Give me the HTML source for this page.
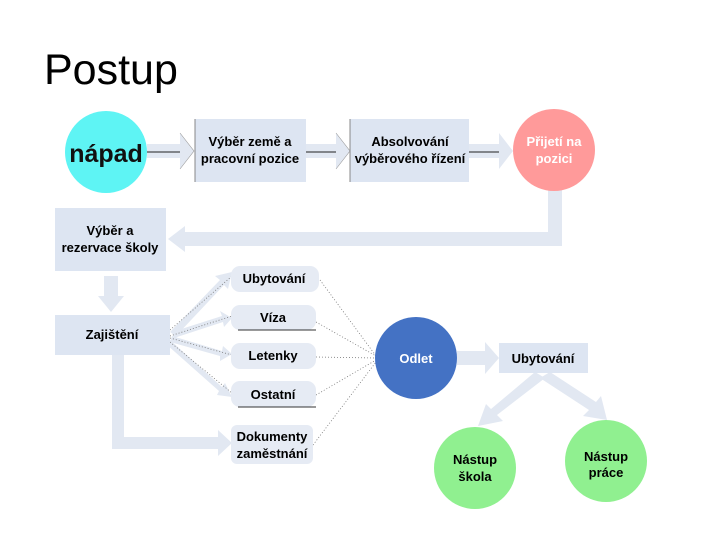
<!DOCTYPE html>
<html><head><meta charset="utf-8"><style>
html,body{margin:0;padding:0;background:#fff;}
svg{display:block;font-family:"Liberation Sans",Arial,sans-serif;}
</style></head><body>
<svg width="720" height="540" viewBox="0 0 720 540" xmlns="http://www.w3.org/2000/svg">
<rect width="720" height="540" fill="#fff"/>
<text x="44" y="84" font-size="43" fill="#000">Postup</text>

<g fill="#e2e8f2">
 <path d="M147,144 H180 V133 L194,151 L180,169 V158 H147 Z"/>
 <path d="M306,144 H336 V133 L350,151 L336,169 V158 H306 Z"/>
 <path d="M469,144 H499 V133 L513,151 L499,169 V158 H469 Z"/>
 <path d="M548,190 H562 V246 H185 V252 L168,239 L185,226 V232 H548 Z"/>
 <path d="M104,276 H118 V296 H124 L111,312 L98,296 H104 Z"/>
 <path d="M112,355 H124 V437 H218 V430 L232,443 L218,456 V449 H112 Z"/>
 <path d="M170,332 L220,280 L215,276 L232,272 L228,289 L224,285 L176,336 Z"/>
 <path d="M172,332 L222,316 L220,311 L232,318 L224,327 L223,322 L174,338 Z"/>
 <path d="M172,336 L222,351 L223,346 L232,354 L220,361 L220,356 L170,342 Z"/>
 <path d="M170,340 L222,387 L225,383 L232,397 L217,395 L219,391 L166,344 Z"/>
 <path d="M457,351 H485 V342 L499,358 L485,374 V365 H457 Z"/>
 <path d="M535,372 L545,378 L497,415 L503,421 L478,426 L486,404 L491,409 Z"/>
 <path d="M540,378 L550,372 L596,402 L601,396 L607,420 L583,416 L589,410 Z"/>
</g>
<g stroke="#222" stroke-width="1">
 <line x1="147" y1="152" x2="180" y2="152"/>
 <path d="M180,133 L194,151 L180,169" fill="none" stroke="#999" stroke-width="0.6"/>
 <line x1="306" y1="152" x2="336" y2="152"/>
 <path d="M336,133 L350,151 L336,169" fill="none" stroke="#999" stroke-width="0.6"/>
 <line x1="469" y1="152" x2="499" y2="152"/>
</g>

<g stroke="#777" stroke-width="0.8" stroke-dasharray="1,2" fill="none">
 <path d="M320,280 L376,356"/><path d="M316,322 L376,356"/><path d="M316,357 L376,358"/>
 <path d="M316,395 L376,360"/><path d="M313,445 L376,362"/>
 <path d="M170,330 L232,276"/><path d="M170,336 L232,316"/><path d="M170,338 L232,355"/><path d="M170,342 L232,393"/>
</g>

<circle cx="106" cy="152" r="41" fill="#5ef4f4"/>
<text x="106" y="162" font-size="25" font-weight="bold" text-anchor="middle" fill="#111">nápad</text>

<rect x="195" y="119" width="111" height="63" fill="#dde5f2"/>
<line x1="195" y1="119" x2="195" y2="182" stroke="#888"/>
<text x="250" y="146" font-size="13" font-weight="bold" text-anchor="middle">Výběr země a</text>
<text x="250" y="163" font-size="13" font-weight="bold" text-anchor="middle">pracovní pozice</text>

<rect x="350" y="119" width="119" height="63" fill="#dde5f2"/>
<line x1="350" y1="119" x2="350" y2="182" stroke="#888"/>
<text x="410" y="146" font-size="13" font-weight="bold" text-anchor="middle">Absolvování</text>
<text x="410" y="163" font-size="13" font-weight="bold" text-anchor="middle">výběrového řízení</text>

<circle cx="554" cy="150" r="41" fill="#ff9a9a"/>
<text x="554" y="146" font-size="13" font-weight="bold" text-anchor="middle" fill="#fff">Přijetí na</text>
<text x="554" y="163" font-size="13" font-weight="bold" text-anchor="middle" fill="#fff">pozici</text>

<rect x="55" y="208" width="111" height="63" fill="#dde5f2"/>
<text x="110" y="235" font-size="13" font-weight="bold" text-anchor="middle">Výběr a</text>
<text x="110" y="252" font-size="13" font-weight="bold" text-anchor="middle">rezervace školy</text>

<rect x="55" y="315" width="115" height="40" fill="#dde5f2"/>
<text x="112" y="339" font-size="13" font-weight="bold" text-anchor="middle">Zajištění</text>

<g fill="#e6ebf4">
 <rect x="231" y="266" width="88" height="26" rx="9"/>
 <rect x="231" y="305" width="85" height="25" rx="9"/>
 <rect x="231" y="343" width="85" height="26" rx="9"/>
 <rect x="231" y="381" width="85" height="26" rx="9"/>
 <rect x="231" y="425" width="82" height="39" rx="6"/>
</g>
<g stroke="#333" stroke-width="1">
 <line x1="238" y1="330" x2="316" y2="330"/>
 <line x1="238" y1="407" x2="316" y2="407"/>
</g>
<g font-size="13" font-weight="bold" text-anchor="middle">
 <text x="274" y="283">Ubytování</text>
 <text x="273" y="322">Víza</text>
 <text x="273" y="360">Letenky</text>
 <text x="273" y="399">Ostatní</text>
 <text x="272" y="441">Dokumenty</text>
 <text x="272" y="458">zaměstnání</text>
</g>

<circle cx="416" cy="358" r="41" fill="#4472c4"/>
<text x="416" y="363" font-size="13" font-weight="bold" text-anchor="middle" fill="#fff">Odlet</text>

<rect x="499" y="343" width="89" height="30" fill="#dde5f2"/>
<text x="543" y="363" font-size="13" font-weight="bold" text-anchor="middle">Ubytování</text>

<circle cx="475" cy="468" r="41" fill="#90f090"/>
<text x="475" y="464" font-size="13" font-weight="bold" text-anchor="middle">Nástup</text>
<text x="475" y="481" font-size="13" font-weight="bold" text-anchor="middle">škola</text>

<circle cx="606" cy="461" r="41" fill="#90f090"/>
<text x="606" y="461" font-size="13" font-weight="bold" text-anchor="middle">Nástup</text>
<text x="606" y="477" font-size="13" font-weight="bold" text-anchor="middle">práce</text>
</svg>
</body></html>
